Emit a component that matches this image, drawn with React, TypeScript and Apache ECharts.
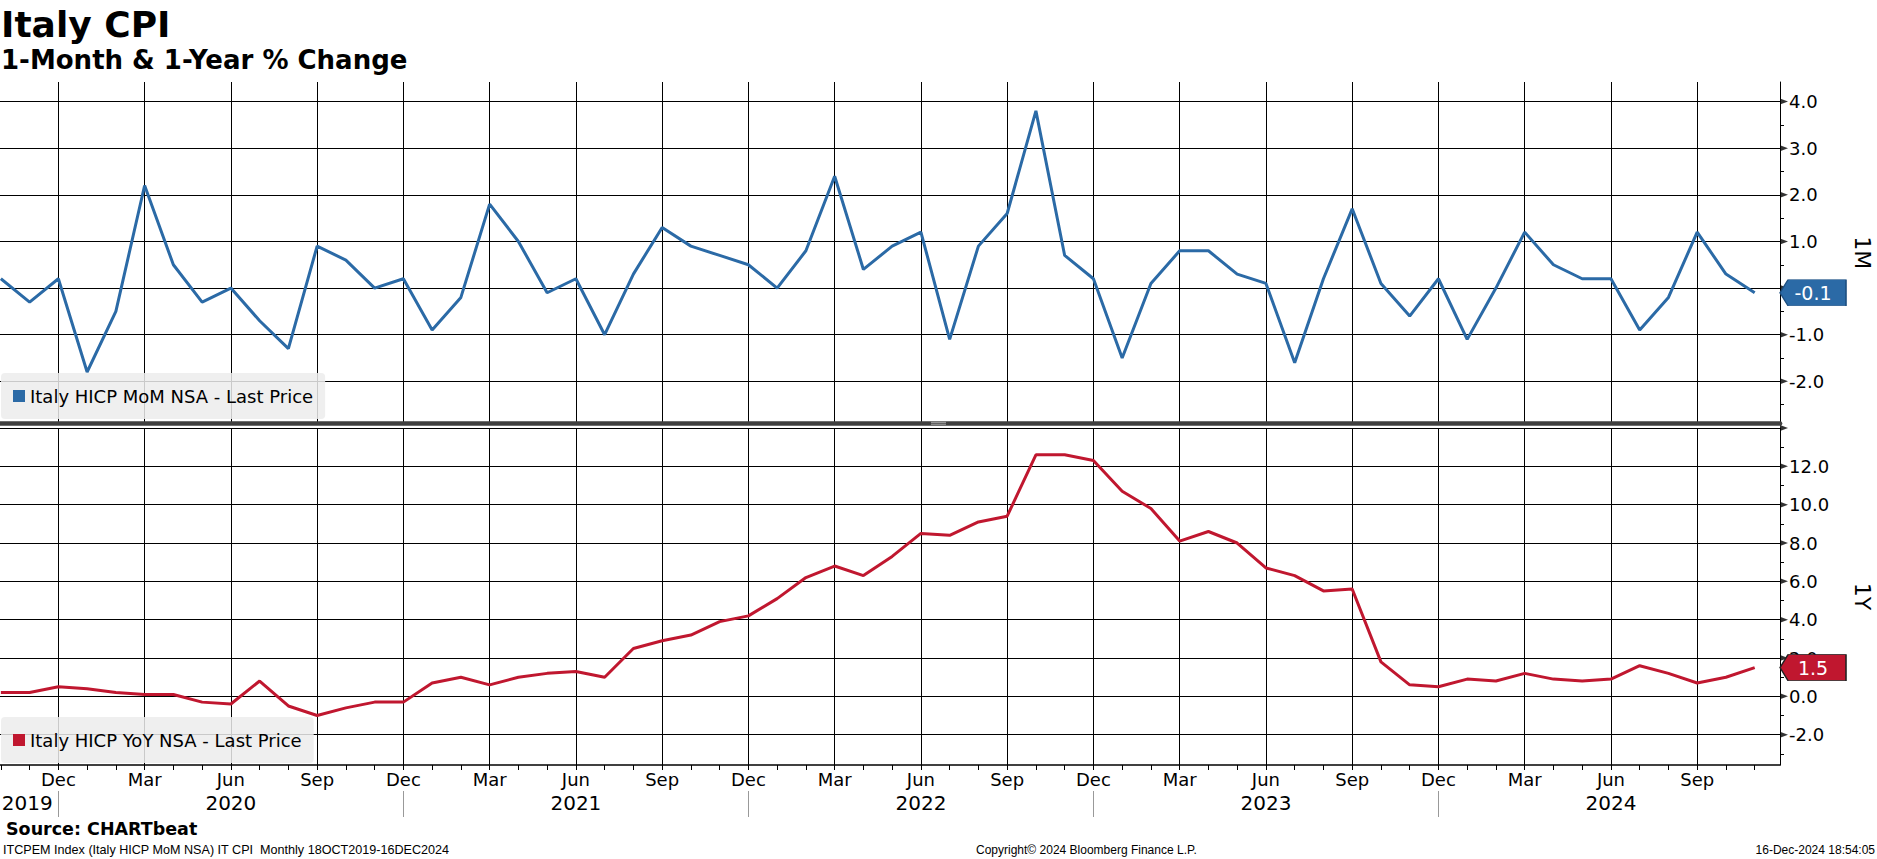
import React, { useEffect, useRef } from 'react';
import * as echarts from 'echarts';

// ---------- data ----------
const MONTH_NAMES = ['Jan', 'Feb', 'Mar', 'Apr', 'May', 'Jun', 'Jul', 'Aug', 'Sep', 'Oct', 'Nov', 'Dec'];
const START_MONTH = 9; // index 0 = Oct 2019

// Italy HICP MoM NSA (%), Oct 2019 .. Nov 2024
const momValues = [
  0.2, -0.3, 0.2, -1.8, -0.5, 2.2, 0.5, -0.3, 0.0, -0.7, -1.3, 0.9,
  0.6, 0.0, 0.2, -0.9, -0.2, 1.8, 1.0, -0.1, 0.2, -1.0, 0.3, 1.3,
  0.9, 0.7, 0.5, 0.0, 0.8, 2.4, 0.4, 0.9, 1.2, -1.1, 0.9, 1.6,
  3.8, 0.7, 0.2, -1.5, 0.1, 0.8, 0.8, 0.3, 0.1, -1.6, 0.2, 1.7,
  0.1, -0.6, 0.2, -1.1, 0.0, 1.2, 0.5, 0.2, 0.2, -0.9, -0.2, 1.2,
  0.3, -0.1,
];

// Italy HICP YoY NSA (%), Oct 2019 .. Nov 2024
const yoyValues = [
  0.2, 0.2, 0.5, 0.4, 0.2, 0.1, 0.1, -0.3, -0.4, 0.8, -0.5, -1.0,
  -0.6, -0.3, -0.3, 0.7, 1.0, 0.6, 1.0, 1.2, 1.3, 1.0, 2.5, 2.9,
  3.2, 3.9, 4.2, 5.1, 6.2, 6.8, 6.3, 7.3, 8.5, 8.4, 9.1, 9.4,
  12.6, 12.6, 12.3, 10.7, 9.8, 8.1, 8.6, 8.0, 6.7, 6.3, 5.5, 5.6,
  1.8, 0.6, 0.5, 0.9, 0.8, 1.2, 0.9, 0.8, 0.9, 1.6, 1.2, 0.7,
  1.0, 1.5,
];

const quarterTicks = [2, 5, 8, 11, 14, 17, 20, 23, 26, 29, 32, 35, 38, 41, 44, 47, 50, 53, 56, 59];
const monthTicks = [
  0, 1, 2, 3, 4, 5, 6, 7, 8, 9, 10, 11, 12, 13, 14, 15, 16, 17, 18, 19, 20,
  21, 22, 23, 24, 25, 26, 27, 28, 29, 30, 31, 32, 33, 34, 35, 36, 37, 38, 39, 40,
  41, 42, 43, 44, 45, 46, 47, 48, 49, 50, 51, 52, 53, 54, 55, 56, 57, 58, 59, 60, 61,
];
const yearSeparatorTicks = [2, 14, 26, 38, 50];
const yearLabelTicks = [0.92, 8, 20, 32, 44, 56];
const yearLabels = ['2019', '2020', '2021', '2022', '2023', '2024'];

const momMajorTicks = [-2, -1, 0, 1, 2, 3, 4];
const momLabelTicks = [-2, -1, 1, 2, 3, 4];
const momMinorTicks = [-2.5, -1.5, -0.5, 0.5, 1.5, 2.5, 3.5];
const yoyMajorTicks = [-2, 0, 2, 4, 6, 8, 10, 12, 14];
const yoyLabelTicks = [-2, 0, 2, 4, 6, 8, 10, 12];
const yoyMinorTicks = [-3, -1, 1, 3, 5, 7, 9, 11, 13];

const MOM_NAME = 'Italy HICP MoM NSA - Last Price';
const YOY_NAME = 'Italy HICP YoY NSA - Last Price';

// ---------- styling ----------
const FONT = "'DejaVu Sans', Verdana, sans-serif";
const SMALL_FONT = "'Liberation Sans', Arial, sans-serif";
const BLUE = '#2b6aa6';
const RED = '#c0172f';
const X_MIN = -0.03;
const X_MAX = 61.88;

export default function App() {
  const ref = useRef<HTMLDivElement>(null);

  useEffect(() => {
    if (!ref.current) return;
    const chart = echarts.init(ref.current, null, { renderer: 'svg' });

    const lastIdx = momValues.length - 1;
    const arrowPath = 'path://M0,13 L8,0 L66,0 L66,26 L8,26 Z';

    const legendBase = {
      left: 1,
      orient: 'horizontal',
      icon: 'rect',
      itemWidth: 12,
      itemHeight: 12,
      itemGap: 5,
      padding: [14, 12, 14, 12],
      backgroundColor: 'rgba(236,236,236,0.85)',
      borderRadius: 4,
      selectedMode: false,
      textStyle: { fontFamily: FONT, fontSize: 18, color: '#000' },
    };

    const xBase = { type: 'value', min: X_MIN, max: X_MAX, position: 'bottom' };
    const markLabel = {
      show: true, position: 'inside', color: '#fff', fontFamily: FONT, fontSize: 19,
      formatter: (p: any) => Number(p.value).toFixed(1),
    };

    const option: any = {
      animation: false,
      backgroundColor: '#fff',
      textStyle: { fontFamily: FONT },
      grid: [
        { left: 0, right: 97, top: 82, height: 341.3, containLabel: false, outerBoundsMode: 'none' },
        { left: 0, right: 97, top: 428, height: 337, containLabel: false, outerBoundsMode: 'none' },
      ],
      legend: [
        { ...legendBase, top: 373, data: [MOM_NAME] },
        { ...legendBase, top: 717, data: [YOY_NAME] },
      ],
      xAxis: [
        {
          ...xBase, gridIndex: 0,
          axisLine: { show: true, onZero: false, lineStyle: { color: '#404040', width: 4.7 } },
          axisTick: { show: false, customValues: quarterTicks },
          axisLabel: { show: false },
          splitLine: { show: true, lineStyle: { color: '#000', width: 1 } },
        },
        {
          ...xBase, gridIndex: 1,
          axisLine: { show: true, onZero: false, lineStyle: { color: '#000', width: 1.5 } },
          axisTick: { show: true, customValues: quarterTicks, length: 5, lineStyle: { color: '#000' } },
          axisLabel: {
            show: true, customValues: quarterTicks, margin: 5,
            fontFamily: FONT, fontSize: 18, color: '#000',
            formatter: (v: number) => MONTH_NAMES[(START_MONTH + Math.round(v)) % 12],
          },
          splitLine: { show: true, lineStyle: { color: '#000', width: 1 } },
        },
        {
          ...xBase, gridIndex: 1,
          axisLine: { show: false, onZero: false },
          axisTick: { show: true, customValues: monthTicks, length: 5, lineStyle: { color: '#000' } },
          axisLabel: { show: false },
          splitLine: { show: false },
        },
        {
          ...xBase, gridIndex: 1, offset: 26,
          axisLine: { show: false, onZero: false },
          axisTick: { show: true, customValues: yearSeparatorTicks, length: 26, lineStyle: { color: '#999', width: 1 } },
          axisLabel: {
            show: true, customValues: yearLabelTicks, margin: 1.5,
            fontFamily: FONT, fontSize: 20, color: '#000',
            formatter: (v: number) => {
              const k = yearLabelTicks.findIndex((t) => Math.abs(t - v) < 1e-6);
              return k >= 0 ? yearLabels[k] : '';
            },
          },
          splitLine: { show: false },
        },
      ],
      yAxis: [
        {
          gridIndex: 0, type: 'value', position: 'right', min: -2.9, max: 4.42,
          axisLine: { show: true, onZero: false, lineStyle: { color: '#000', width: 1 } },
          axisTick: { show: false, customValues: momMajorTicks },
          axisLabel: {
            show: true, customValues: momLabelTicks, margin: 9,
            fontFamily: FONT, fontSize: 18, color: '#000',
            formatter: (v: number) => v.toFixed(1),
          },
          splitLine: { show: true, lineStyle: { color: '#000', width: 1 } },
          name: '1M', nameLocation: 'middle', nameRotate: -90, nameGap: 71,
          nameTextStyle: { fontFamily: FONT, fontSize: 22, color: '#000' },
        },
        {
          gridIndex: 0, type: 'value', position: 'right', min: -2.9, max: 4.42,
          axisLine: { show: false, onZero: false },
          axisTick: { show: true, customValues: momMinorTicks, length: 4, lineStyle: { color: '#000' } },
          axisLabel: { show: false },
          splitLine: { show: false },
        },
        {
          gridIndex: 1, type: 'value', position: 'right', min: -3.58, max: 14,
          axisLine: { show: true, onZero: false, lineStyle: { color: '#000', width: 1 } },
          axisTick: { show: false, customValues: yoyMajorTicks },
          axisLabel: {
            show: true, customValues: yoyLabelTicks, margin: 9,
            fontFamily: FONT, fontSize: 18, color: '#000',
            formatter: (v: number) => v.toFixed(1),
          },
          splitLine: { show: true, lineStyle: { color: '#000', width: 1 } },
          name: '1Y', nameLocation: 'middle', nameRotate: -90, nameGap: 71,
          nameTextStyle: { fontFamily: FONT, fontSize: 22, color: '#000' },
        },
        {
          gridIndex: 1, type: 'value', position: 'right', min: -3.58, max: 14,
          axisLine: { show: false, onZero: false },
          axisTick: { show: true, customValues: yoyMinorTicks, length: 4, lineStyle: { color: '#000' } },
          axisLabel: { show: false },
          splitLine: { show: false },
        },
      ],
      series: [
        {
          name: MOM_NAME, type: 'line', xAxisIndex: 0, yAxisIndex: 0,
          data: momValues.map((v, i) => [i, v]),
          showSymbol: false, color: BLUE,
          lineStyle: { color: BLUE, width: 3 }, z: 5,
          markPoint: {
            symbol: arrowPath, symbolSize: [66, 26], symbolOffset: [33, 0], symbolKeepAspect: false,
            itemStyle: { color: BLUE, borderColor: '#1d4f80', borderWidth: 1 },
            label: markLabel,
            data: [{ coord: [X_MAX, momValues[lastIdx]], value: momValues[lastIdx] }],
            z: 10,
          },
        },
        {
          name: YOY_NAME, type: 'line', xAxisIndex: 1, yAxisIndex: 2,
          data: yoyValues.map((v, i) => [i, v]),
          showSymbol: false, color: RED,
          lineStyle: { color: RED, width: 3 }, z: 5,
          markPoint: {
            symbol: arrowPath, symbolSize: [66, 26], symbolOffset: [33, 0], symbolKeepAspect: false,
            itemStyle: { color: RED, borderColor: '#222', borderWidth: 1 },
            label: markLabel,
            data: [{ coord: [X_MAX, yoyValues[lastIdx]], value: yoyValues[lastIdx] }],
            z: 10,
          },
        },
        {
          type: 'scatter', xAxisIndex: 0, yAxisIndex: 0, silent: true, clip: false,
          data: momMajorTicks.map((v) => [X_MAX, v]),
          symbol: 'triangle', symbolRotate: -90, symbolSize: [6, 8], symbolOffset: [4, 0],
          itemStyle: { color: '#000' }, z: 4,
        },
        {
          type: 'scatter', xAxisIndex: 1, yAxisIndex: 2, silent: true, clip: false,
          data: yoyMajorTicks.map((v) => [X_MAX, v]),
          symbol: 'triangle', symbolRotate: -90, symbolSize: [6, 8], symbolOffset: [4, 0],
          itemStyle: { color: '#000' }, z: 4,
        },
      ],
      graphic: [
        { type: 'text', x: 1, y: 24, style: { text: 'Italy CPI', fontFamily: FONT, fontSize: 36, fontWeight: 'bold', fill: '#000', align: 'left', verticalAlign: 'middle' } },
        { type: 'text', x: 1, y: 60, style: { text: '1-Month & 1-Year % Change', fontFamily: FONT, fontSize: 26, fontWeight: 'bold', fill: '#000', align: 'left', verticalAlign: 'middle' } },
        { type: 'text', x: 6, y: 829, style: { text: 'Source: CHARTbeat', fontFamily: FONT, fontSize: 17.5, fontWeight: 'bold', fill: '#000', align: 'left', verticalAlign: 'middle' } },
        { type: 'text', x: 3, y: 850, style: { text: 'ITCPEM Index (Italy HICP MoM NSA) IT CPI  Monthly 18OCT2019-16DEC2024', fontFamily: SMALL_FONT, fontSize: 12.6, fill: '#000', align: 'left', verticalAlign: 'middle' } },
        { type: 'text', x: 976, y: 850, style: { text: 'Copyright\u00A9 2024 Bloomberg Finance L.P.', fontFamily: SMALL_FONT, fontSize: 12, fill: '#000', align: 'left', verticalAlign: 'middle' } },
        { type: 'text', x: 1875, y: 850, style: { text: '16-Dec-2024 18:54:05', fontFamily: SMALL_FONT, fontSize: 12, fill: '#000', align: 'right', verticalAlign: 'middle' } },
        { type: 'line', shape: { x1: 931, y1: 422.3, x2: 946, y2: 422.3 }, style: { stroke: '#aaa', lineWidth: 1 }, z: 100 },
        { type: 'line', shape: { x1: 931, y1: 424.2, x2: 946, y2: 424.2 }, style: { stroke: '#aaa', lineWidth: 1 }, z: 100 },
      ],
    };

    chart.setOption(option);
    return () => chart.dispose();
  }, []);

  return (
    <div
      ref={ref}
      style={{ position: 'fixed', left: 0, top: 0, width: 1877, height: 859, background: '#fff' }}
    />
  );
}
